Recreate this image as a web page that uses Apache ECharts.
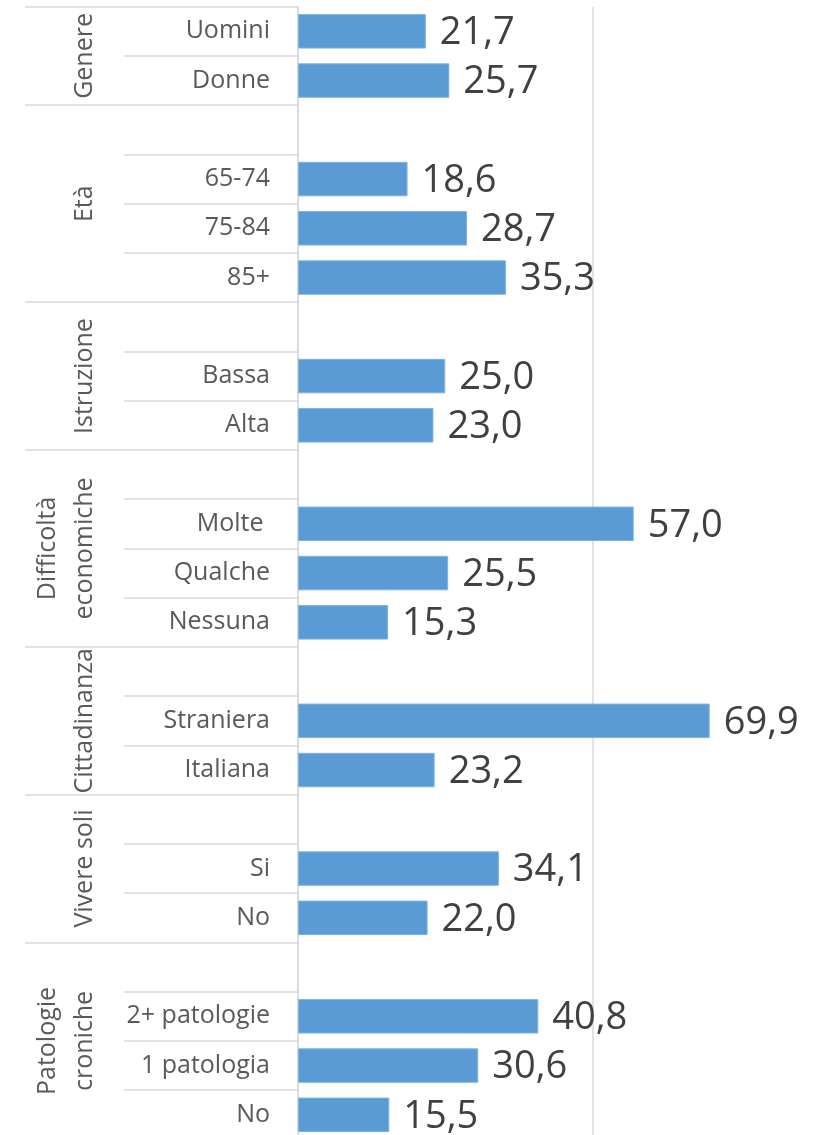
<!DOCTYPE html>
<html>
<head>
<meta charset="utf-8">
<script src="https://cdn.jsdelivr.net/npm/echarts@6/dist/echarts.min.js"></script>
<style>
html,body{margin:0;padding:0;background:#fff;}
#chart{width:823px;height:1135px;}
</style>
</head>
<body>
<div id="chart"></div>
<script>
const categories = ['Uomini','Donne','','65-74','75-84','85+','','Bassa','Alta','','Molte ','Qualche','Nessuna','','Straniera','Italiana','','Si','No','','2+ patologie','1 patologia','No'];
const values = [21.7,25.7,null,18.6,28.7,35.3,null,25.0,23.0,null,57.0,25.5,15.3,null,69.9,23.2,null,34.1,22.0,null,40.8,30.6,15.5];
const groupNames = ['Genere','Età','Istruzione','Difficoltà\neconomiche','Cittadinanza','Vivere soli','Patologie\ncroniche'];
const groupStarts = [0,2,6,9,13,16,19];
const groupEnds = [1,5,8,12,15,18,22];
const xTicks = [0, 50, 100];

const lineColor = '#d9d9d9';
const chart = echarts.init(document.getElementById('chart'));
chart.setOption({
  animation: false,
  grid: { left: 298, top: 6.7, width: 589, height: 1132.75, outerBoundsMode: 'none', containLabel: false },
  xAxis: {
    type: 'value', min: xTicks[0], max: xTicks[2], interval: xTicks[1] - xTicks[0],
    axisLabel: { show: false }, axisLine: { show: false }, axisTick: { show: false },
    splitLine: { lineStyle: { color: lineColor, width: 1.5 } }
  },
  yAxis: [
    {
      type: 'category', data: categories, inverse: true, position: 'left',
      axisLine: { show: true, lineStyle: { color: lineColor, width: 1.5 } },
      axisTick: { show: true, interval: 0, length: 174, lineStyle: { color: lineColor, width: 1.5 } },
      axisLabel: { interval: 0, margin: 28, fontFamily: 'Open Sans', fontSize: 25, color: '#595959', padding: [3, 0, 0, 0] }
    },
    {
      type: 'category', data: categories, inverse: true, position: 'left',
      axisLine: { show: false },
      axisTick: { show: true, interval: function (i) { return groupStarts.indexOf(i) >= 0; }, length: 273, lineStyle: { color: lineColor, width: 1.5 } },
      axisLabel: { show: false }
    }
  ],
  series: [
    {
      type: 'bar', data: values, yAxisIndex: 0, barCategoryGap: '30%',
      itemStyle: { color: '#5B9BD5', borderColor: '#7db3e2', borderWidth: 1 },
      label: {
        show: true, position: 'right', distance: 14, offset: [0, 2],
        fontFamily: 'Open Sans', fontSize: 38, color: '#404040',
        formatter: function (p) { return p.value == null ? '' : p.value.toFixed(1).replace('.', ','); }
      }
    },
    {
      type: 'custom', yAxisIndex: 0, clip: false, silent: true,
      data: groupStarts.map(function (s, i) { return [0, s, groupEnds[i]]; }),
      encode: { x: 0, y: 1 },
      renderItem: function (params, api) {
        const s = api.value(1);
        const e = api.value(2);
        const p1 = api.coord([0, s]);
        const p2 = api.coord([0, e]);
        const cy = (p1[1] + p2[1]) / 2;
        return {
          type: 'text',
          x: p1[0] - 195, y: cy, rotation: Math.PI / 2,
          style: {
            text: groupNames[params.dataIndex], align: 'center', verticalAlign: 'bottom',
            fontFamily: 'Open Sans', fontSize: 25, lineHeight: 37, fill: '#595959'
          }
        };
      }
    }
  ]
});
</script>
</body>
</html>
